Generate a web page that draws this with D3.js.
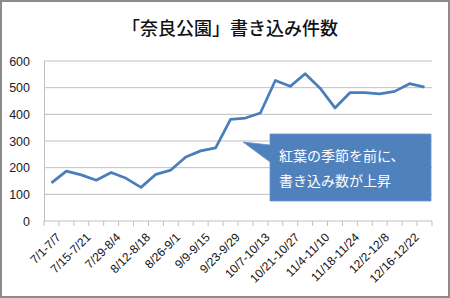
<!DOCTYPE html>
<html>
<head>
<meta charset="utf-8">
<script src="https://cdn.jsdelivr.net/npm/d3@7"></script>
<style>
    body { margin: 0; background: #fff; }
    text { font-family: "Noto Sans CJK JP", "Noto Sans", sans-serif; }
</style>
</head>
<body>
<script>
// weekly post counts for Nara Park

var weeks = ["7/1-7/7", "7/8-7/14", "7/15-7/21", "7/22-7/28", "7/29-8/4", "8/5-8/11",
    "8/12-8/18", "8/19-8/25", "8/26-9/1", "9/2-9/8", "9/9-9/15", "9/16-9/22",
    "9/23-9/29", "9/30-10/6", "10/7-10/13", "10/14-10/20", "10/21-10/27", "10/28-11/3",
    "11/4-11/10", "11/11-11/17", "11/18-11/24", "11/25-12/1", "12/2-12/8", "12/9-12/15",
    "12/16-12/22", "12/23-12/29"];

var counts = [143, 187, 173, 153, 182, 160, 126, 175, 191, 240, 263, 274,
    381, 386, 405, 527, 505, 552, 498, 424, 481, 481, 477, 486, 515, 502];

var yTicks = [0, 100, 200, 300, 400, 500, 600];

var title = "「奈良公園」書き込み件数";
var noteLines = ["紅葉の季節を前に、", "書き込み数が上昇"];

var W = 450, H = 298;
var margin = { top: 61, right: 18, bottom: 77, left: 44 },
    width = 432 - margin.left,
    height = 221 - margin.top;

var svg = d3.select("body").append("svg")
    .attr("width", W)
    .attr("height", H);

// chart border
svg.append("rect")
    .attr("x", 1).attr("y", 1)
    .attr("width", W - 2).attr("height", H - 2)
    .attr("fill", "#fff")
    .attr("stroke", "#8c8c8c")
    .attr("stroke-width", 2);

svg.append("text")
    .attr("x", 230)
    .attr("y", 35)
    .attr("text-anchor", "middle")
    .style("font-size", "18px")
    .style("font-weight", "500")
    .style("fill", "#111")
    .text(title);

var g = svg.append("g")
    .attr("transform", "translate(" + margin.left + "," + margin.top + ")");

var x = d3.scaleBand()
    .domain(weeks)
    .range([0, width]);

var y = d3.scaleLinear()
    .domain([0, 600])
    .range([height, 0]);

// gridlines
g.selectAll(".grid")
    .data(yTicks.slice(1))
    .enter().append("line")
    .attr("class", "grid")
    .attr("x1", 0)
    .attr("x2", width)
    .attr("y1", function(d) { return y(d); })
    .attr("y2", function(d) { return y(d); })
    .attr("stroke", "#bfbfbf")
    .attr("stroke-width", 1);

// y axis
var yAxis = g.append("g")
    .call(d3.axisLeft(y).tickValues(yTicks).tickSize(0).tickPadding(14));
yAxis.select(".domain").attr("stroke", "#bfbfbf");
yAxis.selectAll("text")
    .style("font-family", "'Liberation Sans', sans-serif")
    .style("font-size", "12.5px")
    .style("fill", "#222");

// x axis with ticks on category boundaries
var xAxisG = g.append("g")
    .attr("transform", "translate(0," + height + ")");
xAxisG.append("line")
    .attr("x1", 0).attr("x2", width)
    .attr("stroke", "#bfbfbf");
xAxisG.selectAll(".tick")
    .data(d3.range(weeks.length + 1))
    .enter().append("line")
    .attr("x1", function(i) { return i * x.step(); })
    .attr("x2", function(i) { return i * x.step(); })
    .attr("y1", 0)
    .attr("y2", 5)
    .attr("stroke", "#bfbfbf");

xAxisG.selectAll(".xlab")
    .data(weeks.filter(function(d, i) { return i % 2 === 0; }))
    .enter().append("text")
    .attr("class", "xlab")
    .attr("transform", function(d) {
        return "translate(" + (x(d) + x.bandwidth() / 2 + 5) + ",12) rotate(-45)";
    })
    .attr("text-anchor", "end")
    .attr("dy", "0.6em")
    .style("font-family", "'Liberation Sans', sans-serif")
    .style("font-size", "12px")
    .style("fill", "#111")
    .text(function(d) { return d; });

// line
var line = d3.line()
    .x(function(d, i) { return x(weeks[i]) + x.bandwidth() / 2; })
    .y(function(d) { return y(d); });

g.append("path")
    .datum(counts)
    .attr("fill", "none")
    .attr("stroke", "#4a7ebb")
    .attr("stroke-width", 2.75)
    .attr("stroke-linejoin", "round")
    .attr("d", line);

// callout
var note = svg.append("g");
note.append("path")
    .attr("d", "M270,134 L431,134 L431,201 L270,201 L270,162 L243,142 L270,145 Z")
    .attr("fill", "#4f81bd")
    .attr("stroke", "#6a96cc")
    .attr("stroke-width", 0.8);

note.selectAll("text")
    .data(noteLines)
    .enter().append("text")
    .attr("x", 279)
    .attr("y", function(d, i) { return 161 + i * 25; })
    .style("font-size", "14px")
    .style("fill", "#fff")
    .text(function(d) { return d; });
</script>
</body>
</html>
